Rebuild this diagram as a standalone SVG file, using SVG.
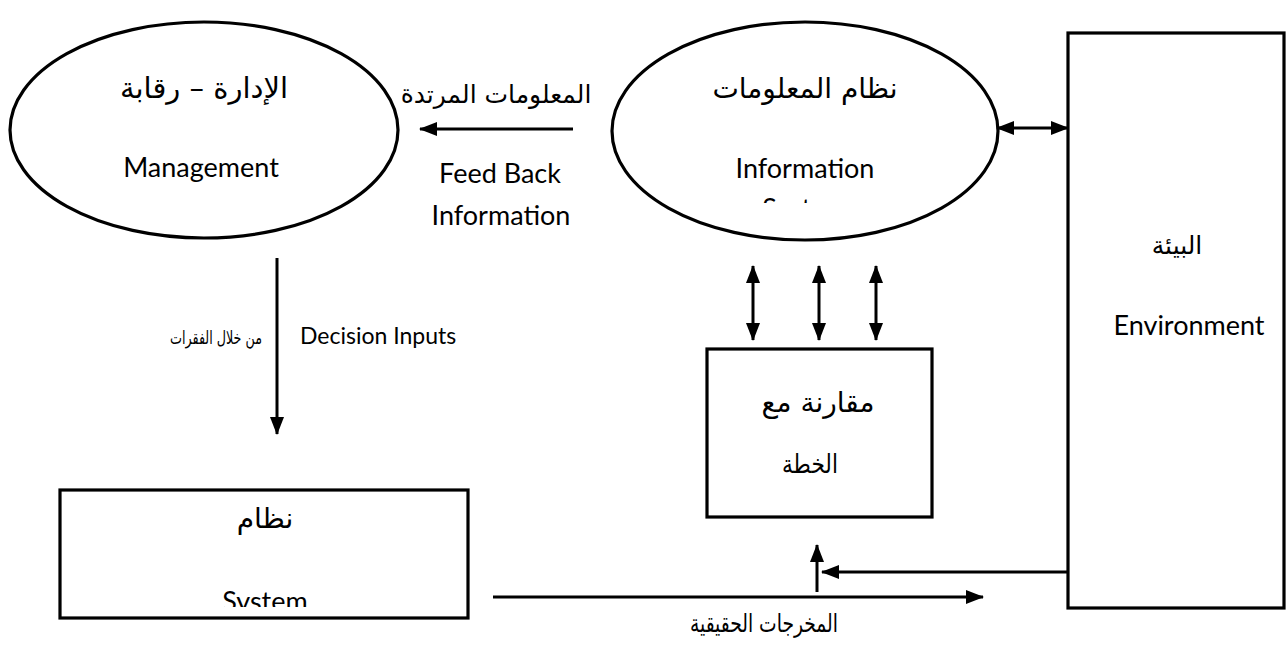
<svg xmlns="http://www.w3.org/2000/svg" width="1287" height="645" viewBox="0 0 1287 645">
<style>
.shape{fill:#fff;stroke:#000;stroke-width:3.2}
.conn{fill:none;stroke:#000;stroke-width:3}
.en{font-family:Lato,"Open Sans",sans-serif;font-size:27px;fill:#000;text-anchor:middle}
.ar{font-family:"DejaVu Sans","Noto Sans",sans-serif;font-size:26px;fill:#000;text-anchor:middle}
</style>
<defs>
<marker id="ah" viewBox="0 0 18 14" refX="17" refY="7" markerWidth="18" markerHeight="14" markerUnits="userSpaceOnUse" orient="auto-start-reverse">
<path d="M0,0 L18,7 L0,14 Z" fill="#000"/>
</marker>
<clipPath id="clipInfo"><rect x="600" y="150" width="400" height="53"/></clipPath>
<clipPath id="clipSys"><rect x="60" y="560" width="408" height="47"/></clipPath>
</defs>
<rect width="1287" height="645" fill="#fff"/>
<g id="management">
<ellipse class="shape" cx="204" cy="130" rx="194" ry="108"/>
<text class="ar" x="204" y="98" direction="rtl" style="font-size:29px">الإدارة – رقابة</text>
<text class="en" x="201" y="177">Management</text>
</g>
<g id="information-system">
<ellipse class="shape" cx="805" cy="131" rx="193" ry="109"/>
<text class="ar" x="805" y="98" direction="rtl" style="font-size:28px">نظام المعلومات</text>
<g clip-path="url(#clipInfo)">
<text class="en" x="805" y="178">Information</text>
<text class="en" x="805" y="218">System</text>
</g>
</g>
<g id="environment">
<rect class="shape" x="1068" y="33" width="216" height="575"/>
<text class="ar" x="1177" y="254" direction="rtl" style="font-size:25px">البيئة</text>
<text class="en" x="1189" y="335">Environment</text>
</g>
<g id="comparison">
<rect class="shape" x="707" y="349" width="225" height="168"/>
<text class="ar" x="818" y="412" direction="rtl" style="font-size:28px">مقارنة مع</text>
<text class="ar" x="810" y="473" direction="rtl" style="font-size:26px" textLength="56" lengthAdjust="spacingAndGlyphs">الخطة</text>
</g>
<g id="system">
<rect class="shape" x="60" y="490" width="408" height="128"/>
<text class="ar" x="265" y="528" direction="rtl" style="font-size:28px">نظام</text>
<g clip-path="url(#clipSys)">
<text class="en" x="265" y="611">System</text>
</g>
</g>
<g id="connectors">
<line class="conn" x1="573" y1="129" x2="420" y2="129" marker-end="url(#ah)"/>
<line class="conn" x1="997" y1="128" x2="1068" y2="128" marker-start="url(#ah)" marker-end="url(#ah)"/>
<line class="conn" x1="753" y1="266" x2="753" y2="340" marker-start="url(#ah)" marker-end="url(#ah)"/>
<line class="conn" x1="819" y1="266" x2="819" y2="340" marker-start="url(#ah)" marker-end="url(#ah)"/>
<line class="conn" x1="876" y1="266" x2="876" y2="340" marker-start="url(#ah)" marker-end="url(#ah)"/>
<line class="conn" x1="277" y1="258" x2="277" y2="434" marker-end="url(#ah)"/>
<line class="conn" x1="493" y1="597" x2="983" y2="597" marker-end="url(#ah)"/>
<line class="conn" x1="817" y1="592" x2="817" y2="545" marker-end="url(#ah)"/>
<line class="conn" x1="1068" y1="572" x2="822" y2="572" marker-end="url(#ah)"/>
</g>
<g id="labels">
<text class="ar" x="496" y="103" direction="rtl" style="font-size:25px">المعلومات المرتدة</text>
<text class="en" x="500" y="183">Feed Back</text>
<text class="en" x="501" y="225">Information</text>
<text class="en" x="300" y="344" style="text-anchor:start;font-size:23px">Decision Inputs</text>
<text class="ar" x="216" y="344" direction="rtl" style="font-size:18px" textLength="92" lengthAdjust="spacingAndGlyphs">من خلال الفقرات</text>
<text class="ar" x="764" y="632" direction="rtl" style="font-size:25px" textLength="148" lengthAdjust="spacingAndGlyphs">المخرجات الحقيقية</text>
</g>
</svg>
